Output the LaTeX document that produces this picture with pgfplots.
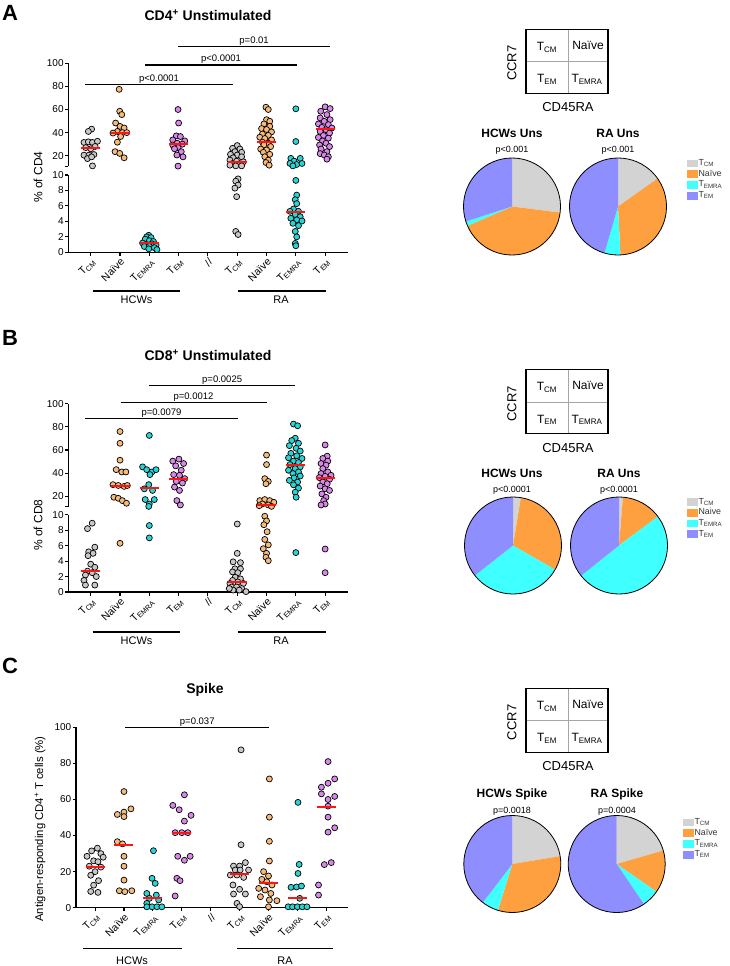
\documentclass[border=0pt]{standalone}
\usepackage{pgfplots}
\usepackage{pgfplotstable}
\pgfplotsset{compat=1.18}
\usepackage{fontspec}
\setmainfont{Liberation Sans}

\definecolor{dgray}{RGB}{200,200,200}
\definecolor{dorange}{RGB}{246,186,122}
\definecolor{dcyan}{RGB}{40,212,212}
\definecolor{dpurple}{RGB}{216,136,232}
\definecolor{pgray}{RGB}{211,211,211}
\definecolor{porange}{RGB}{255,160,64}
\definecolor{pcyan}{RGB}{64,255,255}
\definecolor{pblue}{RGB}{142,142,255}
\definecolor{medred}{RGB}{255,20,20}

\newcommand\Ts[1]{T\textsubscript{#1}}
\newcommand\fs[1]{\fontsize{#1}{#1}\selectfont}

\pgfplotsset{
  swarm/.style={scale only axis, width=279.7pt, xmin=0.235, xmax=9.78, clip=false,
    axis y line*=left, tick align=outside, major tick length=3.5pt,
    axis line style={line width=1.1pt},
    every tick/.style={black, line width=1.1pt},
    yticklabel style={font=\fs{10}, inner sep=1pt},
    /pgf/number format/assume math mode=true},
  cats/.style={xtick={1,...,9},
    xticklabels={\Ts{CM},Naïve,\Ts{EMRA},\Ts{EM},//,\Ts{CM},Naïve,\Ts{EMRA},\Ts{EM}},
    xticklabel style={rotate=45, anchor=north east, font=\fs{10.5}, inner sep=1pt}},
  upper/.style={swarm, height=102.8pt, ymin=11, ymax=100, ytick={20,40,60,80,100},
    axis x line=none, extra y ticks={11}, extra y tick labels={}},
  lower/.style={swarm, height=77.3pt, ymin=0, ymax=10, ytick={0,2,...,10},
    axis x line*=bottom, cats},
  dots/.style={only marks, scatter, scatter src=explicit symbolic, mark size=3pt,
    scatter/classes={
      a={mark=*,draw=black,fill=dgray,line width=0.7pt},
      b={mark=*,draw=black,fill=dorange,line width=0.7pt},
      c={mark=*,draw=black,fill=dcyan,line width=0.7pt},
      d={mark=*,draw=black,fill=dpurple,line width=0.7pt}}},
  meds/.style={only marks, color=medred, mark=-, mark size=9.5pt,
    mark options={solid, draw=medred, line width=2pt}},
  hi/.style={restrict y to domain=10.6:200},
  lo/.style={restrict y to domain=-1:10.5},
}

% CD4 unstimulated
\pgfplotstableread{
x y g
1.03 43 a
0.92 41 a
0.77 31.5 a
0.92 32 a
1.06 31.5 a
1.23 32.5 a
0.83 27 a
1.0 26 a
1.15 28 a
0.77 20.5 a
0.94 20.5 a
1.11 21 a
0.89 17.5 a
1.03 19 a
1.06 11.2 a
1.97 77.5 b
1.99 58.5 b
2.06 55.6 b
1.85 48.3 b
2.0 45.4 b
2.14 44 b
1.91 41 b
1.76 39.6 b
2.08 40 b
2.23 40 b
2.02 36.6 b
1.91 31.7 b
1.83 23.5 b
1.99 22 b
2.14 18.2 b
2.98 2.2 c
2.91 2.0 c
3.06 1.9 c
2.86 1.7 c
3.0 1.5 c
3.14 1.4 c
2.77 1.2 c
2.91 1.0 c
3.09 1.1 c
3.23 0.95 c
2.83 0.75 c
3.0 0.75 c
3.17 0.6 c
2.98 0.45 c
3.26 0.35 c
3.98 60 d
4.0 48.3 d
3.92 37.2 d
4.06 36.6 d
3.8 33.7 d
4.21 32.8 d
3.95 30.8 d
4.13 30 d
3.8 29.3 d
3.98 27 d
3.86 26 d
4.09 23.5 d
3.94 20.6 d
4.15 19 d
3.98 11 d
6.0 28.8 a
5.84 26.4 a
6.09 25.8 a
5.92 23.5 a
6.15 22.9 a
5.77 21.2 a
6.0 20.6 a
5.86 18.2 a
6.15 19.1 a
5.75 16.2 a
5.98 15.3 a
6.21 14.7 a
5.84 13.3 a
6.07 13 a
5.95 11.2 a
6.15 11.2 a
5.75 11.8 a
6.03 9.5 a
5.95 9.2 a
6.03 8.7 a
5.92 8.3 a
5.98 7.2 a
5.95 2.7 a
6.03 2.3 a
6.98 62 b
7.06 60 b
7.0 51.2 b
7.11 49.8 b
6.91 47.5 b
7.11 45.4 b
6.83 43.5 b
7.0 42.7 b
7.17 40.6 b
6.86 38.8 b
7.06 37.6 b
6.77 36 b
6.94 34.9 b
7.17 33.7 b
6.86 31.7 b
7.06 30.8 b
6.91 29.3 b
7.14 27.9 b
6.8 25.8 b
7.0 25 b
6.89 22.9 b
7.11 21.2 b
6.94 19.1 b
7.06 16.2 b
6.98 14.1 b
7.09 11.8 b
8.0 60.6 c
8.0 32.3 c
7.83 17.7 c
8.15 17.7 c
7.94 15.3 c
7.8 13.3 c
8.03 12.4 c
8.21 13.3 c
7.9 11.2 c
8.0 9.3 c
8.03 7.4 c
7.98 6.8 c
8.03 6.3 c
7.92 5.6 c
7.8 5.3 c
8.09 5.3 c
7.98 4.9 c
8.15 4.6 c
7.83 4.4 c
8.03 4.2 c
8.21 4.05 c
7.9 3.75 c
8.09 3.45 c
7.98 2.7 c
8.03 2.0 c
7.98 1.15 c
8.0 0.85 c
9.0 62.3 d
9.17 60.8 d
8.85 58.5 d
9.06 55.6 d
8.83 52.7 d
9.17 51.2 d
8.97 49.8 d
8.77 47.5 d
9.11 46.9 d
8.89 44.5 d
9.23 44 d
9.03 42.5 d
8.83 41 d
9.15 39.6 d
8.94 37.5 d
8.77 35.8 d
9.11 35.2 d
8.91 32.8 d
9.03 30.8 d
8.81 29.3 d
9.15 27.9 d
8.86 25.8 d
9.06 23.5 d
8.83 21.8 d
8.97 20.6 d
9.11 19.1 d
9.06 17 d
}\Adata
\pgfplotstableread{
x y
1 27
2 40
3 1.2
4 30
6 14.7
7 32.3
8 5.2
9 43.3
}\Amed

% CD8 unstimulated
\pgfplotstableread{
x y g
1.05 8.9 a
0.89 8.2 a
1.14 5.8 a
0.93 5.2 a
1.08 5.0 a
0.91 4.7 a
1.0 3.6 a
1.14 3.2 a
0.89 2.7 a
1.05 2.5 a
0.82 2.2 a
1.19 2.0 a
0.77 1.5 a
0.82 0.9 a
1.14 0.9 a
2.0 76 b
2.0 65.8 b
2.0 51.2 b
1.87 43 b
2.06 41 b
2.2 41 b
1.76 30 b
1.94 29.3 b
2.14 28.5 b
2.25 29.3 b
1.79 19.1 b
1.94 18.2 b
2.08 16.2 b
2.22 13.9 b
2.0 6.3 b
3.0 72.6 c
2.77 45.4 c
2.91 43 c
3.09 41 c
3.23 43 c
3.02 38.7 c
2.98 30 c
2.83 26.4 c
3.11 25 c
2.86 17.1 c
3.17 17.1 c
3.0 13.3 c
2.98 11.2 c
3.0 8.6 c
3.0 7.0 c
3.8 50.4 d
4.01 52.1 d
4.17 48.3 d
3.9 46.3 d
4.09 42.5 d
3.83 38.7 d
4.03 38.1 d
4.21 35.2 d
3.92 32.8 d
4.13 31.4 d
3.86 27.9 d
4.03 25 d
3.94 16.2 d
4.06 12.4 d
6.0 8.8 a
6.0 5.0 a
5.86 3.9 a
6.11 3.8 a
5.92 3.0 a
6.11 3.0 a
5.84 2.6 a
6.02 2.5 a
5.93 1.9 a
6.11 1.7 a
5.84 1.5 a
5.75 1.1 a
6.02 1.3 a
6.21 1.1 a
5.81 0.65 a
5.98 0.65 a
6.15 0.45 a
5.86 0.25 a
6.3 0.05 a
5.73 0.45 a
6.07 0.25 a
7.0 55.6 b
7.0 47.4 b
6.94 35.2 b
7.06 32.8 b
6.98 30.8 b
6.77 16.2 b
6.94 17.1 b
7.11 16.2 b
7.25 14.7 b
6.86 13.3 b
7.06 12.4 b
7.17 11.2 b
6.75 11.8 b
6.94 9.8 b
7.0 9.2 b
6.91 8.7 b
7.02 7.8 b
6.94 6.8 b
7.06 6.1 b
6.89 5.6 b
7.0 5.0 b
6.98 4.5 b
7.06 4.05 b
7.92 82.5 c
8.06 81 c
7.98 70.2 c
7.86 68.2 c
8.09 65.8 c
7.78 63.8 c
8.01 61.5 c
8.15 59.1 c
7.83 57.1 c
8.03 55 c
7.75 53.3 c
8.21 52.7 c
7.92 50.4 c
8.09 49.2 c
7.8 47.4 c
8.15 45.4 c
7.98 43.9 c
7.75 42.5 c
8.09 41 c
7.9 39.6 c
8.15 37.5 c
7.94 35.8 c
7.78 33.7 c
8.06 32.3 c
7.92 29.9 c
8.09 27 c
7.98 23.5 c
8.01 19.1 c
8.0 5.1 c
9.0 64.4 d
9.07 54.7 d
8.92 52.7 d
9.09 50.4 d
8.86 48.3 d
9.03 46.9 d
8.92 43.9 d
9.09 41 d
8.86 39.6 d
9.2 38.1 d
9.0 37.2 d
8.8 36.1 d
9.15 34.6 d
8.92 32.3 d
9.07 30.8 d
8.83 28.8 d
9.0 26.4 d
9.15 25 d
8.89 22 d
9.03 19.1 d
8.95 16.2 d
9.0 13.3 d
8.86 12.4 d
9.0 5.56 d
9.0 2.5 d
}\Bdata
\pgfplotstableread{
x y
1 2.7
2 29
3 27.5
4 34.8
6 1.3
7 12.7
8 46.6
9 35.5
}\Bmed

% Spike
\pgfplotstableread{
x y g
1.08 33 a
0.88 31.5 a
1.2 30 a
0.72 28.5 a
1.28 28 a
0.95 26 a
1.1 25.5 a
0.8 23 a
1.2 22.5 a
1.0 20 a
0.85 18 a
1.12 15 a
0.95 12.5 a
0.85 9 a
1.1 8.5 a
2.0 64.4 b
2.24 54.8 b
2.0 53 b
1.77 51.7 b
2.0 50.5 b
1.77 36.6 b
1.95 35.4 b
2.0 28.5 b
2.0 23 b
2.0 15.3 b
1.84 9.4 b
2.03 8.9 b
2.27 9.4 b
3.02 31.6 c
2.97 16.3 c
3.08 13.5 c
2.79 7.9 c
3.12 7.0 c
2.88 5.2 c
3.2 4.3 c
2.79 2.4 c
2.97 0.5 c
2.79 0.5 c
3.14 0.5 c
3.31 0.5 c
4.09 62.6 d
3.69 56.7 d
3.91 54.3 d
4.32 51.2 d
4.09 48 d
3.77 41.6 d
4.0 41.6 d
4.21 41.6 d
3.86 28.5 d
4.29 28.5 d
4.09 26.3 d
3.83 16.3 d
3.94 15 d
3.77 6.5 d
6.05 87.5 a
6.05 34.9 a
5.79 23.1 a
6.0 23.1 a
6.2 25 a
6.31 20.9 a
5.85 20.9 a
6.02 20.9 a
5.68 18.1 a
5.91 18.1 a
6.14 16.8 a
5.77 12.6 a
6.0 10.2 a
6.2 7.6 a
5.79 7.6 a
5.91 2.4 a
6.0 0.6 a
7.03 71.4 b
7.03 50.2 b
7.03 36.8 b
7.03 25.9 b
6.83 20 b
7.0 17.6 b
6.77 15.7 b
6.94 14.4 b
7.12 12.6 b
6.66 10.7 b
6.88 9.8 b
7.08 7.9 b
6.72 6.1 b
7.03 4.3 b
7.29 3.9 b
7.0 0.5 b
8.02 58.4 c
8.06 24 c
8.02 19 c
7.78 11.3 c
7.97 11.5 c
8.14 12 c
8.08 5.2 c
7.68 0.5 c
7.83 0.5 c
8.0 0.5 c
8.17 0.5 c
8.33 0.5 c
9.06 81 d
9.29 71.4 d
9.06 69 d
8.83 66.8 d
8.83 63.1 d
9.29 61.7 d
9.06 60 d
9.06 56.3 d
9.06 50.2 d
9.29 44.3 d
9.06 41.9 d
8.93 23.9 d
9.17 25 d
8.73 12.6 d
8.73 7 d
}\Cdata
\pgfplotstableread{
x y
1 22.8
2 34.5
3 5.5
4 41.5
6 18.7
7 13.5
8 5.3
9 56
}\Cmed

% pie: centre x, centre y (from top), TCM, Naive, TEMRA, TEM (percent)
\newcommand\pie[6]{%
  \begin{axis}[at={(#1pt,-#2pt)}, anchor=center, scale only axis, width=97pt, height=97pt,
    hide axis, xmin=-1, xmax=1, ymin=-1, ymax=1, clip=false]
    \addplot[draw=none, forget plot] coordinates {(0,0)};
    \fill[pgray] (axis cs:0,0) -- ++(90:48.5pt) arc[start angle=90, delta angle={-3.6*#3}, radius=48.5pt] -- cycle;
    \fill[porange] (axis cs:0,0) -- ++({90-3.6*#3}:48.5pt) arc[start angle={90-3.6*#3}, delta angle={-3.6*#4}, radius=48.5pt] -- cycle;
    \fill[pcyan] (axis cs:0,0) -- ++({90-3.6*(#3+#4)}:48.5pt) arc[start angle={90-3.6*(#3+#4)}, delta angle={-3.6*#5}, radius=48.5pt] -- cycle;
    \fill[pblue] (axis cs:0,0) -- ++({90-3.6*(#3+#4+#5)}:48.5pt) arc[start angle={90-3.6*(#3+#4+#5)}, delta angle={-3.6*#6}, radius=48.5pt] -- cycle;
    \draw[line width=0.8pt] (axis cs:0,0) circle[radius=48.5pt];
  \end{axis}}

\newcommand\pieleg[3]{%
  \begin{axis}[at={(#1pt,-#2pt)}, anchor=north west, hide axis, scale only axis,
    width=10pt, height=10pt, xmin=0, xmax=1, ymin=0, ymax=1,
    legend style={draw=none, fill=none, at={(0,1)}, anchor=north west,
      font=\fs{8.8}, text=black!80, inner sep=0pt, row sep=0.6pt,
      nodes={inner sep=1pt, text height=6.3pt, text depth=1.8pt}},
    legend cell align=left,
    legend image code/.code={\fill[##1] (0pt,-3.4pt) rectangle (10pt,3.4pt);}]
    \addplot[draw=none, forget plot] coordinates {(0,0)};
    \addlegendimage{pgray}\addlegendentry{\Ts{CM}}
    \addlegendimage{porange}\addlegendentry{#3}
    \addlegendimage{pcyan}\addlegendentry{\Ts{EMRA}}
    \addlegendimage{pblue}\addlegendentry{\Ts{EM}}
  \end{axis}}

\newcommand\quadbox[1]{%
  \begin{scope}[shift={(0pt,-#1pt)}]
  \draw[gray!70, line width=0.6pt] (568,0) -- (568,-64) (526,-32) -- (608,-32);
  \draw[line width=1.2pt] (526,0) rectangle (608,-64);
  \node[font=\fs{12}] at (547,-18) {\Ts{CM}};
  \node[font=\fs{12}] at (588,-16) {Naïve};
  \node[font=\fs{12}] at (547,-50) {\Ts{EM}};
  \node[font=\fs{12}] at (587,-50) {\Ts{EMRA}};
  \node[font=\fs{13}, rotate=90] at (512,-34) {CCR7};
  \node[font=\fs{13}] at (568,-78) {CD45RA};
  \end{scope}}

\begin{document}
\begin{tikzpicture}[x=1pt, y=1pt]
\path[use as bounding box] (0,0) rectangle (729,-966);

% ---------- A ----------
\node[font=\fs{22}\bfseries] at (10,-13) {A};
\node[font=\fs{14}\bfseries] at (208,-15) {CD4\textsuperscript{+} Unstimulated};
\node[font=\fs{12}, rotate=90] at (38,-177) {\% of CD4};
\begin{axis}[upper, at={(68.3pt,-166.1pt)}, anchor=south west]
  \addplot[dots, hi] table[x=x, y=y, meta=g] {\Adata};
  \addplot[meds, hi] table[x=x, y=y] {\Amed};
  \draw[line width=1.1pt] (axis cs:0.8,81.8) -- (axis cs:5.86,81.8) node[midway, above, inner sep=0.6pt, font=\fs{9.5}] {p<0.0001};
  \draw[line width=1.1pt] (axis cs:2.85,98.5) -- (axis cs:8.04,98.5) node[midway, above, inner sep=0.6pt, font=\fs{9.5}] {p<0.0001};
  \draw[line width=1.1pt] (axis cs:3.98,114.4) -- (axis cs:9.17,114.4) node[midway, above, inner sep=0.6pt, font=\fs{9.5}] {p=0.01};
\end{axis}
\begin{axis}[lower, at={(68.3pt,-252.3pt)}, anchor=south west]
  \addplot[dots, lo] table[x=x, y=y, meta=g] {\Adata};
  \addplot[meds, lo] table[x=x, y=y] {\Amed};
\end{axis}
\draw[line width=1.1pt] (92.7,-291) -- (180,-291) (238,-291) -- (326,-291);
\node[font=\fs{11}] at (136.5,-300) {HCWs};
\node[font=\fs{11}] at (281,-300) {RA};

\quadbox{29.3}
\node[font=\fs{12}\bfseries] at (512,-133) {HCWs Uns};
\node[font=\fs{12}\bfseries] at (618,-133) {RA Uns};
\node[font=\fs{9}] at (512,-150) {p<0.001};
\node[font=\fs{9}] at (618,-150) {p<0.001};
\pie{512}{206.5}{27}{41.5}{1.5}{30}
\pie{618}{206.5}{15.2}{34}{5.3}{45.5}
\pieleg{687}{158}{Naïve}

% ---------- B ----------
\node[font=\fs{22}\bfseries] at (10,-338) {B};
\node[font=\fs{14}\bfseries] at (208,-355) {CD8\textsuperscript{+} Unstimulated};
\node[font=\fs{12}, rotate=90] at (38,-525) {\% of CD8};
\begin{axis}[upper, at={(68.3pt,-506.6pt)}, anchor=south west]
  \addplot[dots, hi] table[x=x, y=y, meta=g] {\Bdata};
  \addplot[meds, hi] table[x=x, y=y] {\Bmed};
  \draw[line width=1.1pt] (axis cs:0.8,87) -- (axis cs:6.03,87) node[midway, above, inner sep=0.6pt, font=\fs{9.5}] {p=0.0079};
  \draw[line width=1.1pt] (axis cs:2.02,101.4) -- (axis cs:7.0,101.4) node[midway, above, inner sep=0.6pt, font=\fs{9.5}] {p=0.0012};
  \draw[line width=1.1pt] (axis cs:3.0,116) -- (axis cs:7.97,116) node[midway, above, inner sep=0.6pt, font=\fs{9.5}] {p=0.0025};
\end{axis}
\begin{axis}[lower, at={(68.3pt,-592pt)}, anchor=south west]
  \addplot[dots, lo] table[x=x, y=y, meta=g] {\Bdata};
  \addplot[meds, lo] table[x=x, y=y] {\Bmed};
\end{axis}
\draw[line width=1.1pt] (92.7,-632) -- (180,-632) (238,-632) -- (326,-632);
\node[font=\fs{11}] at (136.5,-641) {HCWs};
\node[font=\fs{11}] at (281,-641) {RA};

\quadbox{369.8}
\node[font=\fs{12}\bfseries] at (512,-473) {HCWs Uns};
\node[font=\fs{12}\bfseries] at (619,-473) {RA Uns};
\node[font=\fs{9}] at (512,-490.5) {p<0.0001};
\node[font=\fs{9}] at (619,-490.5) {p<0.0001};
\pie{513}{545.5}{2.6}{30.7}{31.1}{35.6}
\pie{619}{545.5}{1.3}{13.5}{49.5}{35.7}
\pieleg{687}{496.5}{Naive}

% ---------- C ----------
\node[font=\fs{22}\bfseries] at (10,-666) {C};
\node[font=\fs{14}\bfseries] at (205,-690) {Spike};
\node[font=\fs{11.3}, rotate=90] at (40,-829) {Antigen-responding CD4\textsuperscript{+} T cells (\%)};
\begin{axis}[swarm, at={(76pt,-907.7pt)}, anchor=south west, width=272pt, height=180.4pt,
    xmin=0.34, xmax=9.75, ymin=0, ymax=100, ytick={0,20,...,100},
    axis x line*=bottom, cats]
  \addplot[dots] table[x=x, y=y, meta=g] {\Cdata};
  \addplot[meds] table[x=x, y=y] {\Cmed};
  \draw[line width=1.1pt] (axis cs:2.04,100) -- (axis cs:7.03,100) node[midway, above, inner sep=0.6pt, font=\fs{9.5}] {p=0.037};
\end{axis}
\draw[line width=1.1pt] (83,-948.3) -- (181.7,-948.3) (237,-948.3) -- (333,-948.3);
\node[font=\fs{11}] at (132,-961) {HCWs};
\node[font=\fs{11}] at (285,-961) {RA};

\quadbox{688.3}
\node[font=\fs{12}\bfseries] at (512,-794) {HCWs Spike};
\node[font=\fs{12}\bfseries] at (617,-794) {RA Spike};
\node[font=\fs{9}] at (512,-811.5) {p=0.0018};
\node[font=\fs{9}] at (617,-811.5) {p=0.0004};
\pie{512.3}{864}{22.4}{32.4}{5.6}{39.6}
\pie{616.7}{864}{20.5}{14.2}{5.8}{59.5}
\pieleg{683}{817}{Naïve}
\end{tikzpicture}
\end{document}
